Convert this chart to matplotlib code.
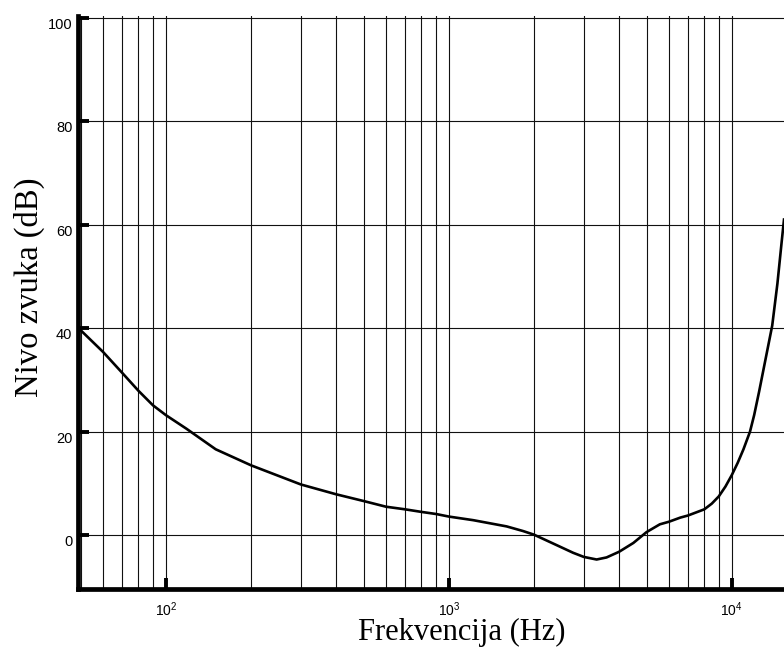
import numpy as np
import matplotlib
matplotlib.use('Agg')
import matplotlib.pyplot as plt
from matplotlib.ticker import FixedLocator, NullFormatter

# prag cujnosti - procitano sa slike
freq = [48.9, 50, 60, 70, 80, 90, 100, 118, 150, 200, 300, 400, 500, 600,
        700, 800, 900, 1000, 1220, 1600, 1830, 2000, 2400, 2750, 3000, 3330, 3610,
        4000, 4490, 5000, 5570, 6000, 6580, 7000, 8000, 8500, 9000, 9500, 10000,
        10500, 11000, 11600, 12000, 12500, 13000, 13900, 14500, 15000, 15300]
level = [40.0, 39.6, 35.4, 31.4, 27.9, 25.1, 23.2, 20.6, 16.6, 13.5, 9.8,
         7.9, 6.6, 5.5, 5.0, 4.5, 4.1, 3.6, 2.9, 1.7, 0.8, 0.1, -1.9, -3.4, -4.2,
         -4.7, -4.3, -3.2, -1.5, 0.6, 2.1, 2.6, 3.4, 3.8, 5.0, 6.1, 7.5, 9.4, 11.6,
         14.0, 16.6, 20.0, 23.2, 27.8, 32.5, 40.5, 48.6, 56.5, 61.0]

y_ticks = [0, 20, 40, 60, 80, 100]
x_ticks = [1e2, 1e3, 1e4]
x_tick_labels = [r'$\mathregular{10^{2}}$', r'$\mathregular{10^{3}}$', r'$\mathregular{10^{4}}$']

plt.rcParams['font.family'] = ['Liberation Sans', 'DejaVu Sans']
plt.rcParams['mathtext.default'] = 'regular'

W, H = 784, 650
fig = plt.figure(figsize=(W / 100, H / 100), dpi=100)
left, bottom, top = 78, 589, 16.2
ax = fig.add_axes([left / W, 1 - bottom / H, (W - left) / W, (bottom - top) / H])

ax.plot(freq, level, color='black', lw=1.9, solid_joinstyle='round')

ax.set_xscale('log')
ax.set_xlim(48.9, 15300)
ax.set_ylim(-10.4, 100.3)

# mreza
minor = [m * 10 ** d for d in range(1, 5) for m in range(2, 10)]
ax.xaxis.set_minor_locator(FixedLocator(minor))
ax.xaxis.set_minor_formatter(NullFormatter())
ax.set_xticks(x_ticks)
ax.set_xticklabels(x_tick_labels, fontsize=10)
ax.set_yticks(y_ticks)
ax.set_yticklabels([str(v) for v in y_ticks], fontsize=10.5, va='top')
ax.grid(True, which='both', axis='x', color='#111111', lw=0.8)
ax.grid(True, which='major', axis='y', color='#111111', lw=0.8)
ax.set_axisbelow(True)

ax.tick_params(which='major', direction='in', length=8, width=2.8, color='black')
ax.tick_params(axis='y', pad=4)
ax.tick_params(axis='x', pad=8)
ax.tick_params(which='minor', length=0)

for s in ['top', 'right']:
    ax.spines[s].set_visible(False)
for s in ['left', 'bottom']:
    ax.spines[s].set_linewidth(3.4)
    ax.spines[s].set_color('black')

ax.set_xlabel('Frekvencija (Hz)', family='Liberation Serif', fontsize=22)
ax.xaxis.set_label_coords(0.544, -0.0895)
ax.xaxis.label.set_va('baseline')
ax.set_ylabel('Nivo zvuka (dB)', family='Liberation Serif', fontsize=23.5)
ax.yaxis.set_label_coords(-0.0694, 0.527)
ax.yaxis.label.set_va('center')

fig.savefig('out.png', dpi=100)
